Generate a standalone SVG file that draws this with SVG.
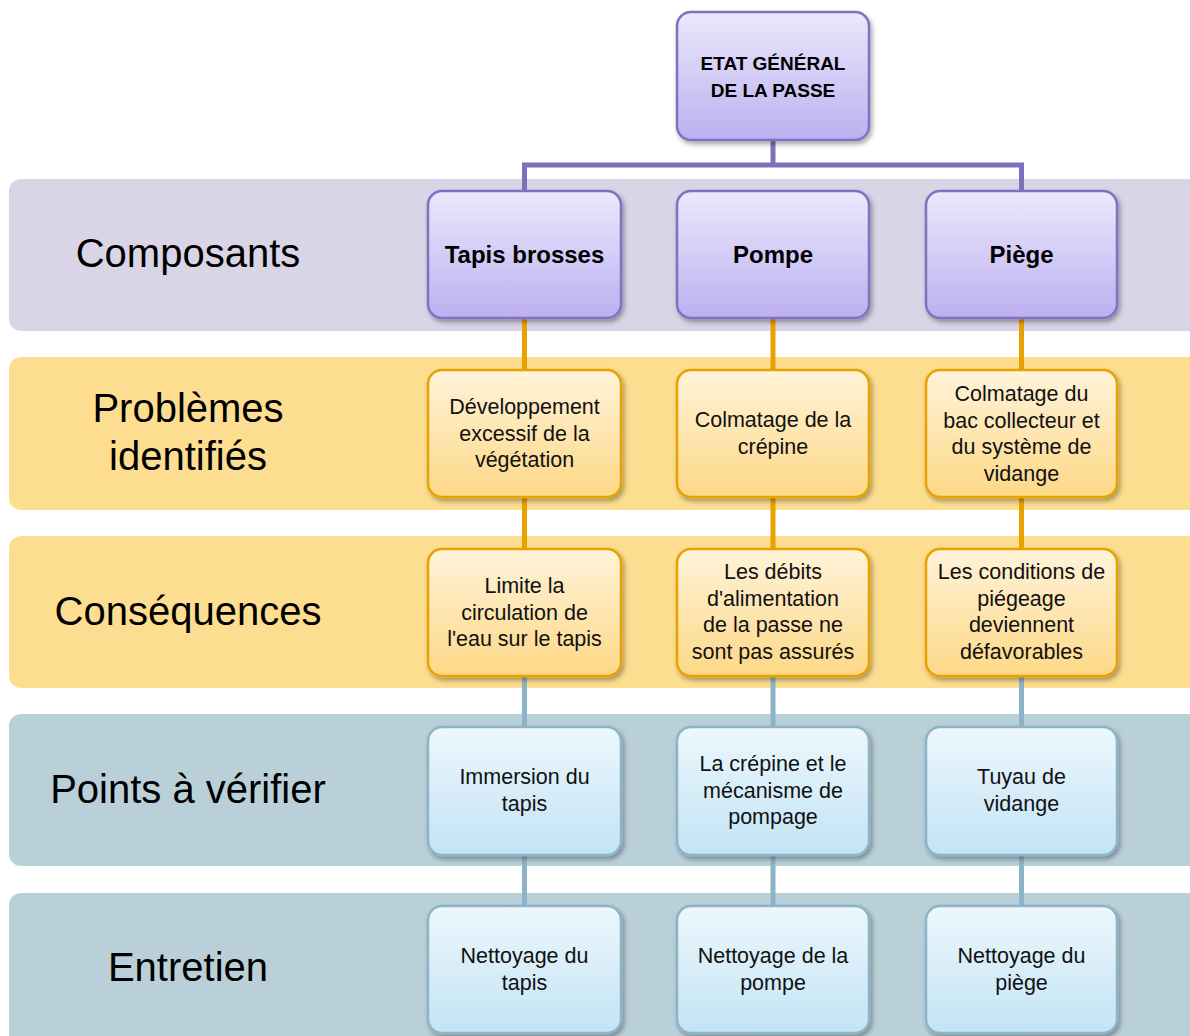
<svg xmlns="http://www.w3.org/2000/svg" width="1190" height="1036" viewBox="0 0 1190 1036">
<defs>
<linearGradient id="gPurple" x1="0" y1="0" x2="0" y2="1">
<stop offset="0" stop-color="#EBE8FC"/><stop offset="1" stop-color="#BCB0F1"/>
</linearGradient>
<linearGradient id="gOrange" x1="0" y1="0" x2="0" y2="1">
<stop offset="0" stop-color="#FFF3DA"/><stop offset="1" stop-color="#FDD886"/>
</linearGradient>
<linearGradient id="gBlue" x1="0" y1="0" x2="0" y2="1">
<stop offset="0" stop-color="#EDF7FC"/><stop offset="1" stop-color="#C2E4F5"/>
</linearGradient>
<filter id="sh" x="-10%" y="-10%" width="125%" height="130%">
<feDropShadow dx="2" dy="3" stdDeviation="2.5" flood-color="#000" flood-opacity="0.35"/>
</filter>
</defs>
<style>
.band-l{fill:#D9D5E6}
.band-o{fill:#FDDE90}
.band-b{fill:#BAD0D8}
.lbl{font-family:"Liberation Sans",Arial,sans-serif;font-size:40px;fill:#000;text-anchor:middle}
.np{fill:url(#gPurple);stroke:#8072BE;stroke-width:2.5;filter:url(#sh)}
.no{fill:url(#gOrange);stroke:#E8A200;stroke-width:2.5;filter:url(#sh)}
.nb{fill:url(#gBlue);stroke:#8DB4C6;stroke-width:2.5;filter:url(#sh)}
.t{font-family:"Liberation Sans",Arial,sans-serif;font-size:21.5px;fill:#111;text-anchor:middle}
.tb{font-family:"Liberation Sans",Arial,sans-serif;font-size:24px;font-weight:bold;fill:#000;text-anchor:middle}
.tt{font-family:"Liberation Sans",Arial,sans-serif;font-size:19px;font-weight:bold;fill:#000;text-anchor:middle}
.cp{stroke:#7F70BD;stroke-width:5;fill:none}
.co{stroke:#E8A200;stroke-width:5;fill:none}
.cb{stroke:#8DB4C6;stroke-width:5;fill:none}
</style>

<g id="bands">
<rect class="band-l" x="9" y="179" width="1200" height="152" rx="12"/>
<rect class="band-o" x="9" y="357" width="1200" height="153" rx="12"/>
<rect class="band-o" x="9" y="536" width="1200" height="152" rx="12"/>
<rect class="band-b" x="9" y="714" width="1200" height="152" rx="12"/>
<rect class="band-b" x="9" y="893" width="1200" height="160" rx="12"/>
<text class="lbl" x="188" y="267">Composants</text>
<text class="lbl" x="188" y="422">Problèmes</text>
<text class="lbl" x="188" y="470">identifiés</text>
<text class="lbl" x="188" y="625">Conséquences</text>
<text class="lbl" x="188" y="803">Points à vérifier</text>
<text class="lbl" x="188" y="981">Entretien</text>
</g>

<g id="connectors">
<path class="cp" d="M773,140 V165 M524.5,191 V165 H1021.5 V191"/>
<path class="co" d="M524.5,318 V370 M773,318 V370 M1021.5,318 V370"/>
<path class="co" d="M524.5,497 V549 M773,497 V549 M1021.5,497 V549"/>
<path class="cb" d="M524.5,676 V727 M773,676 V727 M1021.5,676 V727"/>
<path class="cb" d="M524.5,855 V906 M773,855 V906 M1021.5,855 V906"/>
</g>

<g id="node-etat">
<rect class="np" x="677" y="12" width="192" height="128" rx="14"/>
<text class="tt" x="773" y="70">ETAT GÉNÉRAL</text>
<text class="tt" x="773" y="97">DE LA PASSE</text>
</g>

<g id="node-tapis">
<rect class="np" x="428" y="191" width="193" height="127" rx="14"/>
<text class="tb" x="524.5" y="263">Tapis brosses</text>
</g>
<g id="node-pompe">
<rect class="np" x="677" y="191" width="192" height="127" rx="14"/>
<text class="tb" x="773" y="263">Pompe</text>
</g>
<g id="node-piege">
<rect class="np" x="926" y="191" width="191" height="127" rx="14"/>
<text class="tb" x="1021.5" y="263">Piège</text>
</g>

<g id="node-prob1">
<rect class="no" x="428" y="370" width="193" height="127" rx="14"/>
<text class="t" x="524.5" y="414">Développement</text>
<text class="t" x="524.5" y="440.5">excessif de la</text>
<text class="t" x="524.5" y="467">végétation</text>
</g>
<g id="node-prob2">
<rect class="no" x="677" y="370" width="192" height="127" rx="14"/>
<text class="t" x="773" y="427">Colmatage de la</text>
<text class="t" x="773" y="453.5">crépine</text>
</g>
<g id="node-prob3">
<rect class="no" x="926" y="370" width="191" height="127" rx="14"/>
<text class="t" x="1021.5" y="401">Colmatage du</text>
<text class="t" x="1021.5" y="427.5">bac collecteur et</text>
<text class="t" x="1021.5" y="454">du système de</text>
<text class="t" x="1021.5" y="480.5">vidange</text>
</g>

<g id="node-cons1">
<rect class="no" x="428" y="549" width="193" height="127" rx="14"/>
<text class="t" x="524.5" y="593">Limite la</text>
<text class="t" x="524.5" y="619.5">circulation de</text>
<text class="t" x="524.5" y="646">l'eau sur le tapis</text>
</g>
<g id="node-cons2">
<rect class="no" x="677" y="549" width="192" height="127" rx="14"/>
<text class="t" x="773" y="579">Les débits</text>
<text class="t" x="773" y="605.5">d'alimentation</text>
<text class="t" x="773" y="632">de la passe ne</text>
<text class="t" x="773" y="658.5">sont pas assurés</text>
</g>
<g id="node-cons3">
<rect class="no" x="926" y="549" width="191" height="127" rx="14"/>
<text class="t" x="1021.5" y="579">Les conditions de</text>
<text class="t" x="1021.5" y="605.5">piégeage</text>
<text class="t" x="1021.5" y="632">deviennent</text>
<text class="t" x="1021.5" y="658.5">défavorables</text>
</g>

<g id="node-verif1">
<rect class="nb" x="428" y="727" width="193" height="128" rx="14"/>
<text class="t" x="524.5" y="784">Immersion du</text>
<text class="t" x="524.5" y="810.5">tapis</text>
</g>
<g id="node-verif2">
<rect class="nb" x="677" y="727" width="192" height="128" rx="14"/>
<text class="t" x="773" y="771">La crépine et le</text>
<text class="t" x="773" y="797.5">mécanisme de</text>
<text class="t" x="773" y="824">pompage</text>
</g>
<g id="node-verif3">
<rect class="nb" x="926" y="727" width="191" height="128" rx="14"/>
<text class="t" x="1021.5" y="784">Tuyau de</text>
<text class="t" x="1021.5" y="810.5">vidange</text>
</g>

<g id="node-entr1">
<rect class="nb" x="428" y="906" width="193" height="127" rx="14"/>
<text class="t" x="524.5" y="963">Nettoyage du</text>
<text class="t" x="524.5" y="989.5">tapis</text>
</g>
<g id="node-entr2">
<rect class="nb" x="677" y="906" width="192" height="127" rx="14"/>
<text class="t" x="773" y="963">Nettoyage de la</text>
<text class="t" x="773" y="989.5">pompe</text>
</g>
<g id="node-entr3">
<rect class="nb" x="926" y="906" width="191" height="127" rx="14"/>
<text class="t" x="1021.5" y="963">Nettoyage du</text>
<text class="t" x="1021.5" y="989.5">piège</text>
</g>
</svg>
